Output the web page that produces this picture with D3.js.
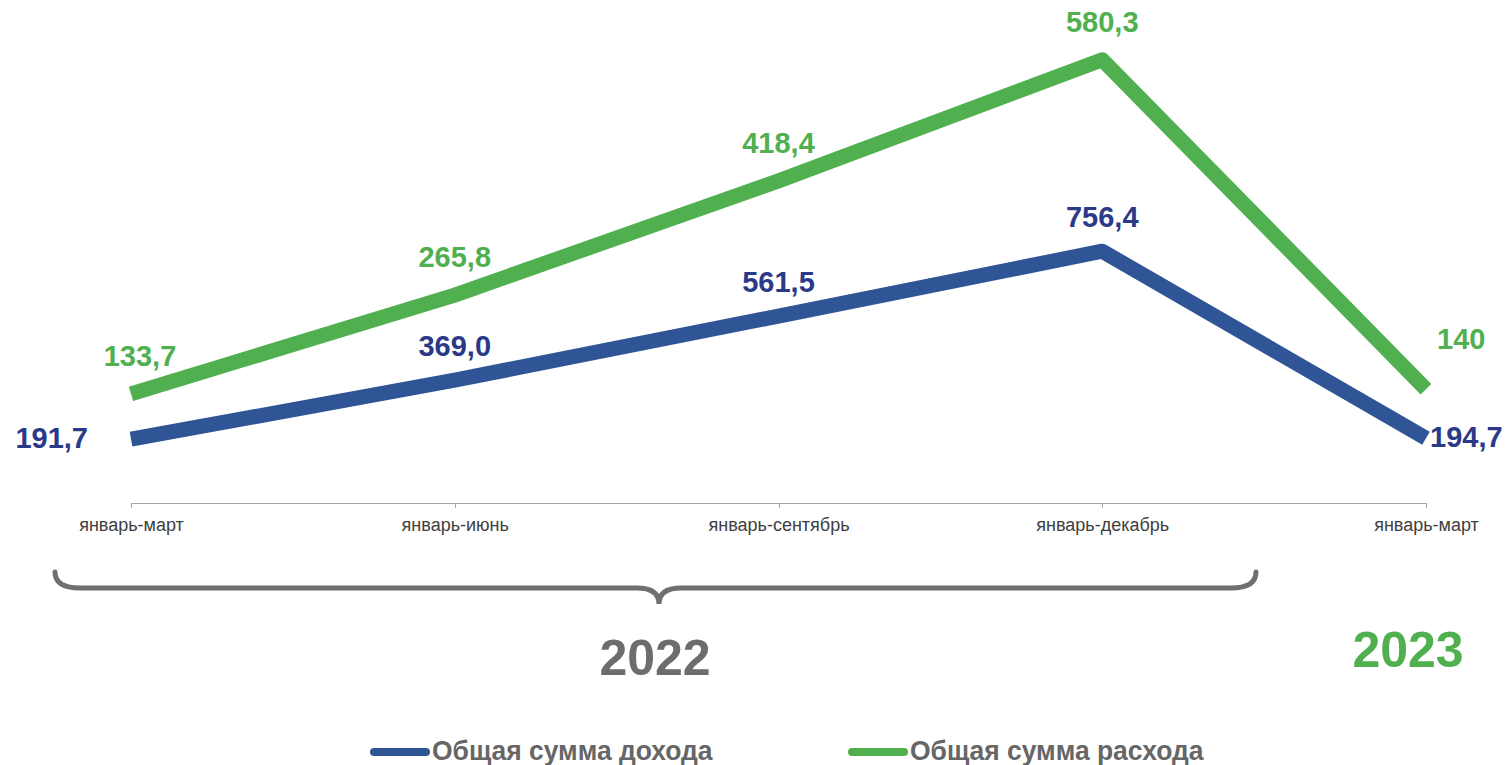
<!DOCTYPE html>
<meta charset="utf-8">
<style>
body { margin: 0; background: #fff; }
svg { display: block; font-family: 'Liberation Sans', Arial, sans-serif; }
.axis line, .axis path { stroke: #a6a6a6; shape-rendering: crispEdges; }
.axis text { fill: #404040; font-size: 18px; }
.series { fill: none; stroke-width: 15; stroke-linejoin: round; stroke-linecap: butt; }
.val { font-size: 29px; font-weight: bold; }
.brace { fill: none; stroke: #6f6f6f; stroke-width: 5; stroke-linecap: round; }
.year { font-size: 50px; font-weight: bold; }
.legend text { fill: #666; font-size: 27px; font-weight: bold; }
</style>
<body>
<script src="https://d3js.org/d3.v7.min.js"></script>
<script>

var width = 1511,
    height = 765;

// data
var periods = ["январь-март", "январь-июнь", "январь-сентябрь", "январь-декабрь", "январь-март"];
var income = [191.7, 369.0, 561.5, 756.4, 194.7];
var expense = [133.7, 265.8, 418.4, 580.3, 140];
var incomeLabels = ["191,7", "369,0", "561,5", "756,4", "194,7"];
var expenseLabels = ["133,7", "265,8", "418,4", "580,3", "140"];
var seriesNames = ["Общая сумма дохода", "Общая сумма расхода"];
var years = ["2022", "2023"];

var blue = "#2f5597",
    blueText = "#2b3a88",
    green = "#50b050",
    grey = "#6d6d6d";

var svg = d3.select("body").append("svg")
    .attr("width", width)
    .attr("height", height);

var x = d3.scalePoint()
    .domain(d3.range(periods.length))
    .range([131, 1426]);

// two hidden value axes, like a primary / secondary axis
var yInc = d3.scaleLinear().domain([0, 1400]).range([503, 37]);
var yExp = d3.scaleLinear().domain([0, 600]).range([494, 45]);

var xAxis = d3.axisBottom(x)
    .tickSize(5)
    .tickSizeOuter(0)
    .tickPadding(9)
    .tickFormat(i => periods[i]);

svg.append("g")
    .attr("class", "axis")
    .attr("transform", "translate(0,503)")
    .call(xAxis);

svg.selectAll(".axis text").attr("dy", "0.75em");

var line = function(scale) {
  return d3.line()
      .x((d, i) => x(i))
      .y(d => scale(d));
};

svg.append("path")
    .datum(income)
    .attr("class", "series")
    .attr("stroke", blue)
    .attr("d", line(yInc));

svg.append("path")
    .datum(expense)
    .attr("class", "series")
    .attr("stroke", green)
    .attr("d", line(yExp));

// value labels
var last = periods.length - 1;

svg.append("g").selectAll("text")
    .data(income)
  .enter().append("text")
    .attr("class", "val")
    .attr("fill", blueText)
    .attr("text-anchor", (d, i) => i == 0 ? "end" : i == last ? "start" : "middle")
    .attr("dominant-baseline", "central")
    .attr("x", (d, i) => x(i) + (i == 0 ? -43 : i == last ? 4 : 0))
    .attr("y", (d, i) => yInc(d) + (i == 0 || i == last ? -1 : -34))
    .text((d, i) => incomeLabels[i]);

svg.append("g").selectAll("text")
    .data(expense)
  .enter().append("text")
    .attr("class", "val")
    .attr("fill", green)
    .attr("text-anchor", (d, i) => i == last ? "start" : "middle")
    .attr("dominant-baseline", "central")
    .attr("x", (d, i) => x(i) + (i == 0 ? 9 : i == last ? 11 : 0))
    .attr("y", (d, i) => yExp(d) + (i == last ? -50 : -38))
    .text((d, i) => expenseLabels[i]);

// curly brace under 2022
var bx0 = 55, bx1 = 1256, bxm = 659, by0 = 572, by1 = 588, by2 = 604;
var brace = d3.path();
brace.moveTo(bx0, by0);
brace.quadraticCurveTo(bx0, by1, bx0 + 25, by1);
brace.lineTo(bxm - 22, by1);
brace.quadraticCurveTo(bxm, by1, bxm, by2);
brace.quadraticCurveTo(bxm, by1, bxm + 22, by1);
brace.lineTo(bx1 - 25, by1);
brace.quadraticCurveTo(bx1, by1, bx1, by0);

svg.append("path")
    .attr("class", "brace")
    .attr("d", brace.toString());

svg.append("text")
    .attr("class", "year")
    .attr("fill", grey)
    .attr("text-anchor", "middle")
    .attr("dominant-baseline", "central")
    .attr("x", 655)
    .attr("y", 658)
    .text(years[0]);

svg.append("text")
    .attr("class", "year")
    .attr("fill", green)
    .attr("text-anchor", "middle")
    .attr("dominant-baseline", "central")
    .attr("x", 1408)
    .attr("y", 650)
    .text(years[1]);

// legend (the original uses a condensed face, squeeze it a little)
var legend = svg.append("g").attr("class", "legend")
    .selectAll("g")
    .data(seriesNames)
  .enter().append("g")
    .attr("transform", (d, i) => "translate(" + (370 + i * 478) + ",751)");

legend.append("line")
    .attr("x1", 4)
    .attr("x2", 56)
    .attr("y1", 1)
    .attr("y2", 1)
    .attr("stroke", (d, i) => i == 0 ? blue : green)
    .attr("stroke-width", 8)
    .attr("stroke-linecap", "round");

legend.append("text")
    .attr("dominant-baseline", "central")
    .attr("transform", "translate(62,0) scale(0.98,1)")
    .text(d => d);

</script>
</body>
